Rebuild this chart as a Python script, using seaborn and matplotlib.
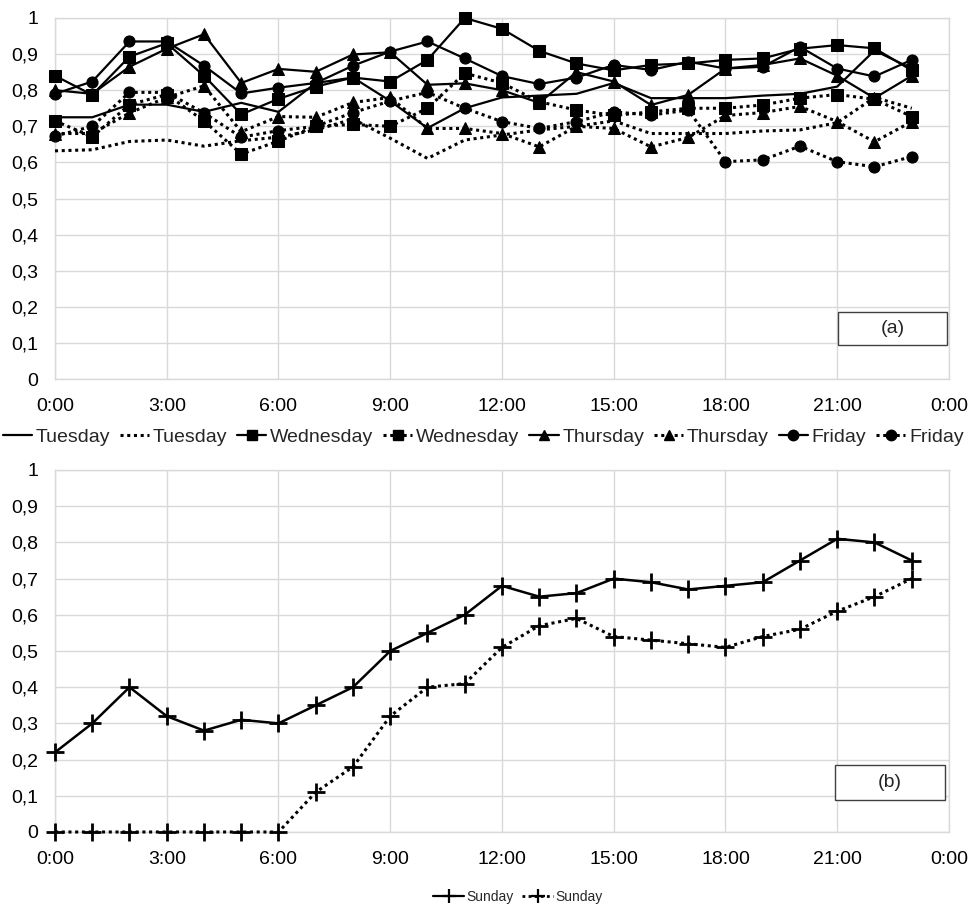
import numpy as np
import pandas as pd
import matplotlib
matplotlib.use("Agg")
import matplotlib.pyplot as plt
import seaborn as sns
from matplotlib.lines import Line2D
from matplotlib.patches import Rectangle

# ---------------- data ----------------
hours = list(range(24))
x_tick_labels = ["0:00", "3:00", "6:00", "9:00", "12:00", "15:00", "18:00", "21:00", "0:00"]
y_tick_labels = ["0", "0,1", "0,2", "0,3", "0,4", "0,5", "0,6", "0,7", "0,8", "0,9", "1"]

tuesday_solid = [0.725, 0.725, 0.76, 0.76, 0.74, 0.765, 0.74, 0.82, 0.835, 0.77, 0.695, 0.75,
                 0.78, 0.785, 0.79, 0.82, 0.778, 0.778, 0.778, 0.785, 0.79, 0.81, 0.91, 0.86]
tuesday_dotted = [0.632, 0.635, 0.658, 0.662, 0.645, 0.66, 0.67, 0.69, 0.72, 0.667, 0.611, 0.662,
                  0.676, 0.69, 0.70, 0.715, 0.68, 0.68, 0.68, 0.687, 0.69, 0.71, 0.78, 0.75]
wednesday_solid = [0.84, 0.787, 0.893, 0.93, 0.84, 0.733, 0.776, 0.81, 0.835, 0.824, 0.884, 1.0,
                   0.97, 0.909, 0.874, 0.855, 0.87, 0.874, 0.884, 0.888, 0.915, 0.925, 0.916, 0.855]
wednesday_dotted = [0.715, 0.671, 0.76, 0.788, 0.715, 0.623, 0.659, 0.70, 0.705, 0.70, 0.75, 0.847,
                    0.82, 0.768, 0.745, 0.73, 0.74, 0.75, 0.75, 0.759, 0.778, 0.788, 0.775, 0.727]
thursday_solid = [0.80, 0.79, 0.865, 0.915, 0.955, 0.82, 0.859, 0.851, 0.899, 0.905, 0.815, 0.819,
                  0.80, 0.765, 0.85, 0.824, 0.759, 0.787, 0.86, 0.87, 0.888, 0.84, 0.778, 0.84]
thursday_dotted = [0.68, 0.68, 0.737, 0.78, 0.812, 0.685, 0.727, 0.725, 0.766, 0.78, 0.694, 0.694,
                   0.68, 0.643, 0.70, 0.694, 0.643, 0.669, 0.73, 0.738, 0.755, 0.713, 0.657, 0.713]
friday_solid = [0.79, 0.824, 0.935, 0.935, 0.868, 0.791, 0.807, 0.82, 0.868, 0.907, 0.935, 0.888,
                0.839, 0.817, 0.835, 0.87, 0.856, 0.879, 0.86, 0.865, 0.92, 0.86, 0.838, 0.884]
friday_dotted = [0.673, 0.70, 0.794, 0.794, 0.737, 0.67, 0.688, 0.70, 0.738, 0.77, 0.794, 0.75,
                 0.713, 0.694, 0.713, 0.74, 0.731, 0.745, 0.602, 0.607, 0.645, 0.602, 0.588, 0.616]

sunday_solid = [0.22, 0.30, 0.40, 0.32, 0.28, 0.31, 0.30, 0.35, 0.40, 0.50, 0.55, 0.60,
                0.68, 0.65, 0.66, 0.70, 0.69, 0.67, 0.68, 0.69, 0.75, 0.81, 0.80, 0.75]
sunday_dotted = [0.0, 0.0, 0.0, 0.0, 0.0, 0.0, 0.0, 0.11, 0.18, 0.32, 0.40, 0.41,
                 0.51, 0.57, 0.59, 0.54, 0.53, 0.52, 0.51, 0.54, 0.56, 0.61, 0.65, 0.70]

top_labels = ["Tuesday", "Tuesday", "Wednesday", "Wednesday", "Thursday", "Thursday", "Friday", "Friday"]
bottom_labels = ["Sunday", "Sunday"]

# ---------------- style ----------------
sns.set_theme(style="white")
plt.rcParams["font.family"] = ["Liberation Sans", "DejaVu Sans"]

DOT = (0, (1, 1.2))
GRID = "#d9d9d9"

fig = plt.figure(figsize=(9.7, 9.09), dpi=100)
ax1 = fig.add_axes([55 / 970, 530 / 909, 894 / 970, 361 / 909])
ax2 = fig.add_axes([55 / 970, 77 / 909, 894 / 970, 362 / 909])

top_series = [
    (tuesday_solid, "-", None),
    (tuesday_dotted, DOT, None),
    (wednesday_solid, "-", "s"),
    (wednesday_dotted, DOT, "s"),
    (thursday_solid, "-", "^"),
    (thursday_dotted, DOT, "^"),
    (friday_solid, "-", "o"),
    (friday_dotted, DOT, "o"),
]

for vals, ls, mk in top_series:
    lw = 1.6 if ls == "-" else 2.2
    sns.lineplot(x=hours, y=vals, ax=ax1, color="black", linestyle=ls, lw=lw,
                 marker=mk, markersize=9 if mk == "^" else 8, markeredgecolor="black",
                 markerfacecolor="black", clip_on=False, legend=False, zorder=3)

for vals, ls in [(sunday_solid, "-"), (sunday_dotted, DOT)]:
    lw = 1.8 if ls == "-" else 2.2
    sns.lineplot(x=hours, y=vals, ax=ax2, color="black", linestyle=ls, lw=lw,
                 marker="+", markersize=13, markeredgewidth=2, markeredgecolor="black",
                 clip_on=False, legend=False, zorder=3)

for ax in (ax1, ax2):
    ax.set_xlim(0, 24)
    ax.set_ylim(0, 1)
    ax.set_xticks(range(0, 25, 3))
    ax.set_xticklabels(x_tick_labels)
    ax.set_yticks(np.linspace(0, 1, 11))
    ax.set_yticklabels(y_tick_labels)
    ax.grid(True, color=GRID, lw=1)
    ax.set_axisbelow(True)
    for s in ax.spines.values():
        s.set_color(GRID)
        s.set_linewidth(1)
    ax.tick_params(length=0, labelsize=14, colors="black")
    ax.tick_params(axis="x", pad=14)
    ax.tick_params(axis="y", pad=12)
    ax.set_xlabel("")
    ax.set_ylabel("")

# label boxes
for ax, txt, (x0, y0, w, h) in [(ax1, "(a)", (0.876, 0.094, 0.122, 0.092)),
                                 (ax2, "(b)", (0.872, 0.088, 0.124, 0.097))]:
    ax.add_patch(Rectangle((x0, y0), w, h, transform=ax.transAxes, facecolor="white",
                           edgecolor="#404040", lw=1, zorder=5))
    ax.text(x0 + w / 2, y0 + h / 2, txt, transform=ax.transAxes, ha="center", va="center",
            fontsize=14, zorder=6)

# legends
top_handles = []
for vals, ls, mk in top_series:
    top_handles.append(Line2D([], [], color="black", linestyle=ls, lw=1.6 if ls == "-" else 2.2,
                              marker=mk, markersize=7.5))
ax1.legend(top_handles, top_labels, loc="center", bbox_to_anchor=(0.479, -0.16), ncol=8,
           frameon=False, fontsize=14, handlelength=1.5, handletextpad=0.2, columnspacing=0.5,
           borderaxespad=0, borderpad=0, numpoints=1)

bottom_handles = [Line2D([], [], color="black", linestyle="-", lw=1.6, marker="+", markersize=10,
                         markeredgewidth=1.6),
                  Line2D([], [], color="black", linestyle=DOT, lw=2, marker="+", markersize=10,
                         markeredgewidth=1.6)]
ax2.legend(bottom_handles, bottom_labels, loc="center", bbox_to_anchor=(0.518, -0.18), ncol=2,
           frameon=False, fontsize=10, handlelength=2.2, handletextpad=0.2, columnspacing=0.6,
           borderaxespad=0, borderpad=0, numpoints=1)

fig.savefig("out.png", dpi=100, facecolor="white")
